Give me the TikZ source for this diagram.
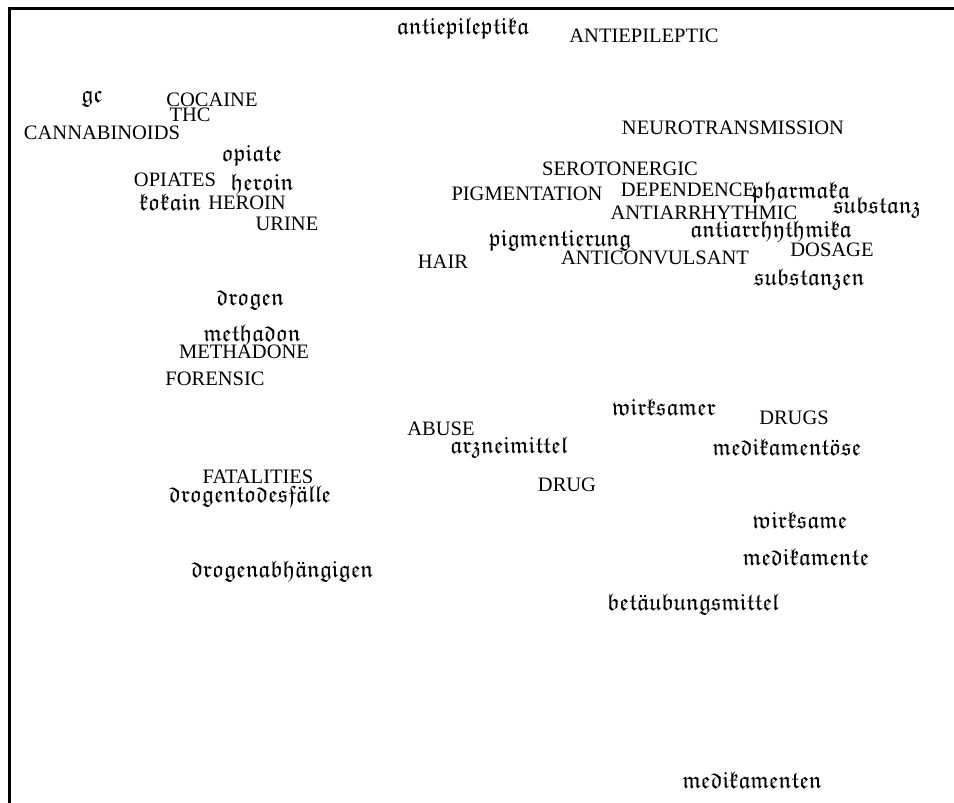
\documentclass[tikz,border=0pt]{standalone}
\usepackage{amssymb}
\usepackage[no-math]{fontspec}
\setmainfont{Liberation Serif}

\newcommand{\fraktur}[1]{$\mathfrak{#1}$}
\newcommand{\uml}[1]{\mbox{\ooalign{$\mathfrak{#1}$\cr\hidewidth\char"A8\hidewidth\cr}}}

\begin{document}
\begin{tikzpicture}[x=1pt,y=-1pt,
    en/.style={font=\fontsize{20.5}{23}\selectfont, inner sep=0pt},
    de/.style={font=\fontsize{24}{26}\selectfont, inner sep=0pt}]
    % Rahmen
    \useasboundingbox (0,0) rectangle (954,803);
    \coordinate (ecke) at (9.5,8.5);
    \coordinate (oben) at (954,8.5);
    \coordinate (unten) at (9.5,803);
    \draw[line width=3pt] (oben) -- (ecke) -- (unten);
    % Englische Begriffe
    \foreach \x/\y/\w in {644/36/ANTIEPILEPTIC, 212/100/COCAINE, 190/115/THC,
        102/133/CANNABINOIDS, 733/128/NEUROTRANSMISSION, 620/169/SEROTONERGIC,
        175/180/OPIATES, 688/190/DEPENDENCE, 527/194/PIGMENTATION,
        247/203/HEROIN, 704/213/ANTIARRHYTHMIC, 287/224/URINE,
        832/250/DOSAGE, 655/258/ANTICONVULSANT, 443/262/HAIR,
        244/352/METHADONE, 215/379/FORENSIC, 794/418/DRUGS,
        441/429/ABUSE, 258/477/FATALITIES, 567/485/DRUG}
        \node[en] (\w) at (\x,\y) {\w};
    % Deutsche Begriffe
    \foreach \x/\y/\w in {463/28/antiepileptika, 92/99/gc, 252/155/opiate,
        262/184/heroin, 170/202/kokain, 801/192/pharmaka, 877/207/substanz,
        771/231/antiarrhythmika, 560/240/pigmentierung, 809/279/substanzen,
        250/300/drogen, 252/335/methadon, 664/407/wirksamer,
        509/447/arzneimittel, 787/447/medikament\uml{o}se,
        250/496/drogentodesf\uml{a}lle, 282/571/drogenabh\uml{a}ngigen,
        800/520/wirksame, 806/557/medikamente,
        693/604/bet\uml{a}ubungsmittel, 752/780/medikamenten}
        \node[de] (de-\x-\y) at (\x,\y) {\fraktur{\w}};
\end{tikzpicture}
\end{document}
